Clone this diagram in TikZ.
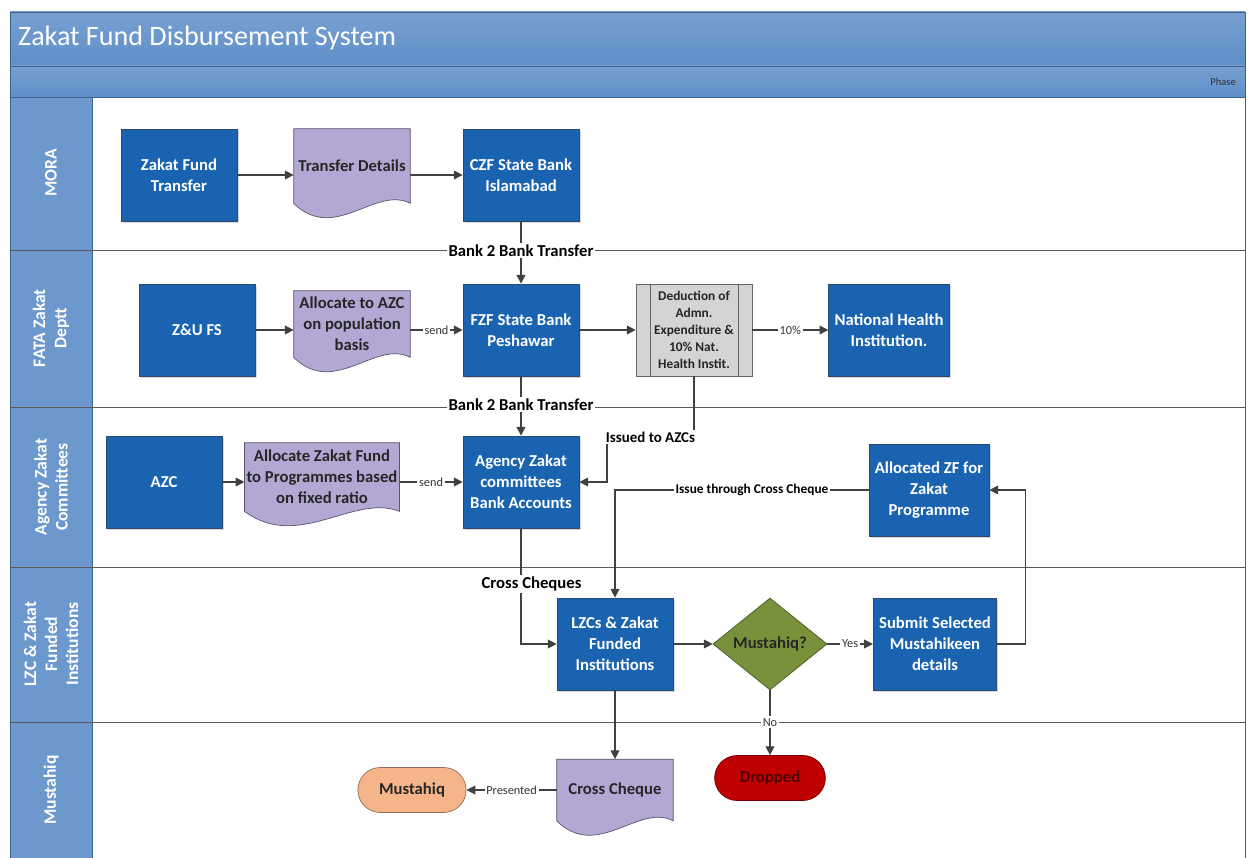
\documentclass[tikz,border=0pt]{standalone}
\usepackage{fontspec}
\setmainfont{Carlito}
\usetikzlibrary{shapes,arrows.meta,positioning,calc,shadows,backgrounds}
\definecolor{hdr}{HTML}{5F8FC8}
\definecolor{hdrline}{HTML}{3C628F}
\definecolor{procblue}{HTML}{1A63B0}
\definecolor{procline}{HTML}{2A4A70}
\definecolor{docfill}{HTML}{B3A8D4}
\definecolor{docline}{HTML}{5A5470}
\definecolor{subfill}{HTML}{D4D4D4}
\definecolor{decfill}{HTML}{77923B}
\definecolor{dropfill}{HTML}{C00000}
\definecolor{mustfill}{HTML}{F5B48A}
\definecolor{wire}{HTML}{404040}

\begin{document}
\begin{tikzpicture}
   [x=0.02cm,y=-0.02cm,
      proc/.style={rectangle,draw=procline,fill=procblue,text=white,
      minimum width=2.32cm,minimum height=1.84cm,align=center,
      font=\fontsize{9.5}{12}\selectfont\bfseries,
      drop shadow={opacity=.3,shadow xshift=1pt,shadow yshift=-1pt}},
doc/.style={rectangle,inner sep=1pt,align=center,text=black!85,
      font=\fontsize{9.5}{12}\selectfont\bfseries},
docshape/.style={draw=docline,fill=docfill,thin},
subproc/.style={rectangle,draw=black!60,fill=subfill,align=center,
      minimum width=2.32cm,minimum height=1.84cm,text=black!85,
      font=\fontsize{7.6}{9.6}\selectfont\bfseries,
      path picture={\draw[black!60]
        ([xshift=.28cm]path picture bounding box.north west) --
        ([xshift=.28cm]path picture bounding box.south west);
        \draw[black!60]
        ([xshift=-.28cm]path picture bounding box.north east) --
        ([xshift=-.28cm]path picture bounding box.south east);}},
decision/.style={diamond,draw=decfill!60!black,fill=decfill,aspect=1.25,
      minimum width=2.28cm,minimum height=1.84cm,inner sep=0pt,
      text=black!85,font=\fontsize{9.5}{12}\selectfont\bfseries},
term/.style={rounded rectangle,draw=#1!60!black,fill=#1,
      minimum width=2.3cm,minimum height=.9cm,
      font=\fontsize{9.5}{12}\selectfont\bfseries},
lane/.style={rotate=90,text=white,align=center,
      font=\fontsize{10}{12}\selectfont\bfseries},
flow/.style={draw=wire,line width=.6pt,-{Triangle[length=5pt,width=5pt]}},
lbl/.style={fill=white,inner sep=1pt,text=black,
      font=\fontsize{8.5}{9}\selectfont\bfseries},
slbl/.style={fill=white,inner sep=1pt,text=black!80,
      font=\fontsize{7}{8}\selectfont}]
\useasboundingbox (0,0) rectangle (1249,858);
%%
%% frame and lanes
\shade[top color=hdr!85!white,bottom color=hdr] (10,12) rectangle (1245,66);
\shade[top color=hdr!85!white,bottom color=hdr] (10,66) rectangle (1245,97);
\fill[hdr!92!white] (10,97) rectangle (92,858);
\draw[hdrline] (10,12) rectangle (1245,858);
\draw[hdrline] (10,66) -- (1245,66);
\draw[hdrline] (10,97) -- (1245,97);
\draw[hdrline] (92,97) -- (92,858);
\foreach \ly in {250,407,567,722}
  \draw[black!65] (10,\ly) -- (1245,\ly);
\node (title) [anchor=west,text=white,font=\fontsize{16}{19}\selectfont] at (12,38) {Zakat Fund Disbursement System};
\node (phase) [anchor=east,text=black!80,font=\fontsize{6}{7}\selectfont] at (1242,82) {Phase};
\node (l1) [lane] at (51,173) {MORA};
\node (l2) [lane] at (51,328) {FATA Zakat\\Deptt};
\node (l3) [lane] at (51,487) {Agency Zakat\\Committees};
\node (l4) [lane] at (51,644) {LZC \& Zakat\\Funded\\Institutions};
\node (l5) [lane] at (51,790) {Mustahiq};
%%
%% MORA
\node (zft) [proc] at (179,175) {Zakat Fund\\Transfer};
\node (tdet) [doc,minimum width=2.32cm,minimum height=1.48cm] at (352,166) {Transfer Details};
\node (czf) [proc] at (521,175) {CZF State Bank\\Islamabad};
%% FATA
\node (zus) [proc] at (197,330) {Z\&U FS};
\node (aazc) [doc,minimum width=2.32cm,minimum height=1.32cm] at (352,324) {Allocate to AZC\\on population\\basis};
\node (fzf) [proc] at (521,330) {FZF State Bank\\Peshawar};
\node (ded) [subproc] at (694,330) {Deduction of\\Admn.\\Expenditure \&\\10\% Nat.\\Health Instit.};
\node (nhi) [proc] at (889,330) {National Health\\Institution.};
%% Agency
\node (azc) [proc] at (164,482) {AZC};
\node (azf) [doc,minimum width=2.76cm,minimum height=1.36cm] at (322,477) {Allocate Zakat Fund\\to Programmes based\\on fixed ratio};
\node (azb) [proc] at (521,482) {Agency Zakat\\committees\\Bank Accounts};
\node (alz) [proc] at (929,490) {Allocated ZF for\\Zakat\\Programme};
%% LZC
\node (lzc) [proc] at (615,644) {LZCs \& Zakat\\Funded\\Institutions};
\node (dec) [decision] at (770,644) {Mustahiq?};
\node (sub) [proc] at (935,644) {Submit Selected\\Mustahikeen\\details};
%% Mustahiq
\node (chq) [doc,minimum width=2.32cm,minimum height=1.22cm] at (615,790) {Cross Cheque};
\node (mus) [term=mustfill,text=black!85,minimum width=2.4cm] at (412,790) {Mustahiq};
\node (drp) [term=dropfill,text=dropfill!40!black,minimum width=2.45cm] at (770,778) {Dropped};
%%
%% document outlines
\begin{scope}[on background layer]
\foreach \n in {tdet,aazc,azf,chq}
  \draw[docshape] (\n.north west) -- (\n.north east) -- (\n.south east)
    .. controls ($(\n.south east)!.3!(\n.south west)+(0,-18)$)
    and ($(\n.south east)!.65!(\n.south west)+(0,40)$) .. (\n.south west) -- cycle;
\end{scope}
%%
%% connectors
\draw[flow] (zft) -- (tdet.west |- zft);
\draw[flow] (tdet.east |- czf) -- (czf);
\draw[flow] (czf) -- node[lbl,pos=.47,font=\fontsize{9.5}{10}\selectfont\bfseries] {Bank 2 Bank Transfer} (fzf);
\draw[flow] (zus) -- (aazc.west |- zus);
\draw[flow] (aazc.east |- fzf) -- node[slbl] {send} (fzf);
\draw[flow] (fzf) -- (ded);
\draw[flow] (ded) -- node[slbl] {10\%} (nhi);
\draw[flow] (fzf) -- node[lbl,pos=.47,font=\fontsize{9.5}{10}\selectfont\bfseries] {Bank 2 Bank Transfer} (azb);
\coordinate (iss) at (607,437);
\draw[flow] (ded.south) |- node[lbl,pos=.75] {Issued to AZCs} (iss) |- (azb.east);
\draw[flow] (azc) -- (azf.west |- azc);
\draw[flow] (azf.east |- azb) -- node[slbl] {send} (azb);
\draw[flow] (azb.south) |- node[lbl,pos=.24,xshift=6,font=\fontsize{9.5}{10}\selectfont\bfseries] {Cross Cheques} (lzc.west);
\draw[flow] (alz.west) -| node[lbl,pos=.23,font=\fontsize{7.6}{9}\selectfont\bfseries] {Issue through Cross Cheque} (lzc.north);
\draw[flow] (lzc) -- (dec);
\draw[flow] (dec) -- node[slbl] {Yes} (sub);
\draw[flow] (sub.east) -- ++(28,0) |- (alz.east);
\draw[flow] (dec.south) -- node[slbl,pos=.49] {No} (drp.north);
\draw[flow] (lzc.south) -- (chq.north);
\draw[flow] (chq.west) -- node[slbl] {Presented} (mus.east);
\end{tikzpicture}
\end{document}
